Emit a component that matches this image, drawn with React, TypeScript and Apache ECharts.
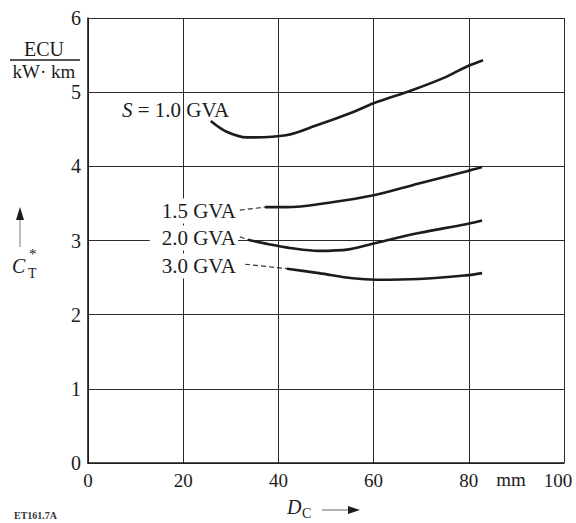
import React, { useEffect, useRef } from "react";
import * as echarts from "echarts";

const xTicks = [0, 20, 40, 60, 80, 100];
const yTicks = [0, 1, 2, 3, 4, 5, 6];

const s10: [number, number][] = [
  [25.8, 4.61], [29, 4.47], [33.4, 4.39], [41.6, 4.42], [47.9, 4.55],
  [55.6, 4.73], [60, 4.85], [68.2, 5.03], [75, 5.2], [79.4, 5.34], [83, 5.43],
];
const s15: [number, number][] = [
  [37.2, 3.45], [41.6, 3.45], [50.6, 3.51], [60, 3.61], [69.5, 3.77], [79.4, 3.93], [82.8, 3.99],
];
const s20: [number, number][] = [
  [33.6, 3.01], [38, 2.95], [42.4, 2.9], [48.5, 2.86], [54.8, 2.88],
  [60, 2.96], [69.5, 3.1], [79.4, 3.22], [82.8, 3.27],
];
const s30: [number, number][] = [
  [41.8, 2.62], [48.5, 2.56], [55.6, 2.49], [60.5, 2.47], [69.5, 2.48], [79.4, 2.53], [82.8, 2.56],
];
const lead15: [number, number][] = [[31.9, 3.41], [37.2, 3.45]];
const lead20: [number, number][] = [[31.9, 3.05], [33.6, 3.01]];
const lead30: [number, number][] = [[33.0, 2.68], [41.8, 2.62]];

const curveNames = ["S = 1.0 GVA", "1.5 GVA", "2.0 GVA", "3.0 GVA"];

const SERIF = "'Liberation Serif', 'DejaVu Serif', serif";
const INK = "#1c1c1c";

export default function App() {
  const ref = useRef<HTMLDivElement>(null);
  useEffect(() => {
    if (!ref.current) return;
    const chart = echarts.init(ref.current, undefined, { renderer: "svg" });
    const curve = (name: string, data: [number, number][]) => ({
      name,
      type: "line",
      data,
      smooth: 0.35,
      showSymbol: false,
      symbol: "none",
      lineStyle: { color: INK, width: 2.6 },
      z: 5,
    });
    const leader = (data: [number, number][]) => ({
      type: "line",
      data,
      showSymbol: false,
      symbol: "none",
      lineStyle: { color: "#333", width: 1.2, type: [5, 3] },
      z: 5,
    });
    const txt = (x: number, y: number, text: string, extra: any = {}) => ({
      type: "text",
      x,
      y,
      z: 10,
      style: {
        text,
        fill: INK,
        font: `20px ${SERIF}`,
        ...extra,
      },
    });
    chart.setOption({
      animation: false,
      grid: { left: 88, right: 12, top: 18, bottom: 60, containLabel: false },
      xAxis: {
        type: "value",
        min: 0,
        max: 100,
        interval: 20,
        axisLine: { show: true, onZero: false, lineStyle: { color: INK, width: 1.6 } },
        axisTick: { show: false },
        splitLine: { show: true, lineStyle: { color: "#2a2a2a", width: 1 } },
        axisLabel: {
          margin: 8,
          color: INK,
          fontFamily: SERIF,
          fontSize: 19,
          formatter: (v: number) => (v === 100 ? "{r|100}" : String(v)),
          rich: { r: { fontFamily: SERIF, fontSize: 19, color: INK, padding: [0, 12, 0, 0] } },
        },
      },
      yAxis: {
        type: "value",
        min: 0,
        max: 6,
        interval: 1,
        axisLine: { show: true, onZero: false, lineStyle: { color: INK, width: 1.6 } },
        axisTick: { show: false },
        splitLine: { show: true, lineStyle: { color: "#2a2a2a", width: 1 } },
        axisLabel: { margin: 7, color: INK, fontFamily: SERIF, fontSize: 20 },
      },
      series: [
        curve(curveNames[0], s10),
        curve(curveNames[1], s15),
        curve(curveNames[2], s20),
        curve(curveNames[3], s30),
        leader(lead15),
        leader(lead20),
        leader(lead30),
      ],
      graphic: [
        // unit fraction
        txt(44, 49, "ECU", { align: "center", verticalAlign: "middle" }),
        {
          type: "line",
          z: 10,
          shape: { x1: 10, y1: 60, x2: 80, y2: 60 },
          style: { stroke: INK, lineWidth: 1.4 },
        },
        txt(44, 71, "kW· km", { align: "center", verticalAlign: "middle", font: `19px ${SERIF}` }),
        // curve labels
        {
          type: "text",
          x: 122,
          y: 110,
          z: 10,
          style: {
            text: "{i|S} = 1.0 GVA",
            fill: INK,
            font: `21px ${SERIF}`,
            verticalAlign: "middle",
            rich: {
              i: { fontFamily: SERIF, fontSize: 21, fontStyle: "italic", fill: INK },
            },
          },
        },
        txt(238, 211, "1.5 GVA", {
          align: "right",
          verticalAlign: "middle",
          font: `21px ${SERIF}`,
          backgroundColor: "#fff",
          padding: [2, 2, 2, 12],
        }),
        txt(238, 238, "2.0 GVA", {
          align: "right",
          verticalAlign: "middle",
          font: `21px ${SERIF}`,
          backgroundColor: "#fff",
          padding: [2, 2, 2, 12],
        }),
        txt(238, 266, "3.0 GVA", {
          align: "right",
          verticalAlign: "middle",
          font: `21px ${SERIF}`,
          backgroundColor: "#fff",
          padding: [2, 2, 2, 12],
        }),
        // y axis title C*_T with arrow
        {
          type: "line",
          z: 10,
          shape: { x1: 20, y1: 247, x2: 20, y2: 218 },
          style: { stroke: "#777", lineWidth: 1 },
        },
        {
          type: "polygon",
          z: 10,
          shape: { points: [[16, 220], [24, 220], [20, 207]] },
          style: { fill: INK },
        },
        txt(12, 266, "C", { verticalAlign: "middle", font: `italic 20px ${SERIF}` }),
        txt(29, 254, "*", { verticalAlign: "middle", font: `15px ${SERIF}` }),
        txt(28, 273, "T", { verticalAlign: "middle", font: `14px ${SERIF}` }),
        // x axis title D_C with arrow
        txt(287, 507, "D", { verticalAlign: "middle", font: `italic 20px ${SERIF}` }),
        txt(302, 513, "C", { verticalAlign: "middle", font: `14px ${SERIF}` }),
        {
          type: "line",
          z: 10,
          shape: { x1: 322, y1: 510, x2: 350, y2: 510 },
          style: { stroke: "#666", lineWidth: 1 },
        },
        {
          type: "polygon",
          z: 10,
          shape: { points: [[348, 506], [348, 514], [360, 510]] },
          style: { fill: INK },
        },
        // unit on x axis
        txt(511, 479, "mm", { align: "center", verticalAlign: "middle", font: `19px ${SERIF}` }),
        // figure code
        txt(14, 515, "ET161.7A", { verticalAlign: "middle", font: `bold 10px ${SERIF}`, fill: "#333" }),
      ],
    });
    return () => chart.dispose();
  }, []);
  return (
    <div
      ref={ref}
      style={{ position: "fixed", left: 0, top: 0, width: 576, height: 523, background: "#fff" }}
    />
  );
}
